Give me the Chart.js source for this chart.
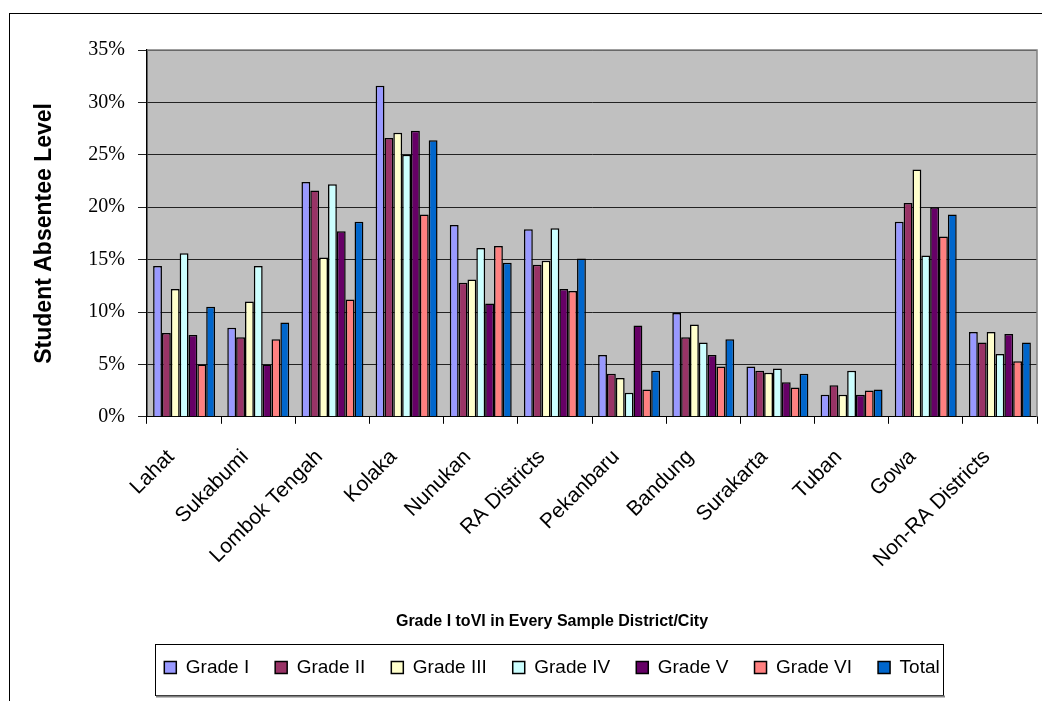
<!DOCTYPE html>
<html>
<head>
<meta charset="utf-8">
<title>Student Absentee Level</title>
<script src="https://cdn.jsdelivr.net/npm/chart.js@4.4.1/dist/chart.umd.min.js"></script>
<style>
  body { margin: 0; background: #fff; }
  #wrap { position: relative; width: 1042px; height: 701px; }
  #frame {
    position: absolute; left: 9px; top: 13px; right: 0; bottom: 0;
    border-left: 1px solid #000; border-top: 1px solid #000;
  }
  #absentChart { position: absolute; left: 0; top: 0; }
</style>
</head>
<body>
<div id="wrap">
  <div id="frame"></div>
  <canvas id="absentChart" width="1042" height="701"></canvas>
</div>
<script>
// Districts / cities on the x axis
const districts = ["Lahat", "Sukabumi", "Lombok Tengah", "Kolaka", "Nunukan", "RA Districts",
  "Pekanbaru", "Bandung", "Surakarta", "Tuban", "Gowa", "Non-RA Districts"];

// Absentee level per grade (%)
const gradeI   = [14.4, 8.5, 22.4, 31.6, 18.3, 17.9, 5.9, 9.9, 4.8, 2.1, 18.6, 8.1];
const gradeII  = [8.0, 7.6, 21.6, 26.6, 12.8, 14.5, 4.1, 7.6, 4.4, 3.0, 20.4, 7.1];
const gradeIII = [12.2, 11.0, 15.2, 27.1, 13.1, 14.9, 3.7, 8.8, 4.2, 2.1, 23.6, 8.1];
const gradeIV  = [15.6, 14.4, 22.2, 25.0, 16.1, 18.0, 2.3, 7.1, 4.6, 4.4, 15.4, 6.0];
const gradeV   = [7.8, 5.0, 17.7, 27.3, 10.8, 12.2, 8.7, 5.9, 3.3, 2.1, 20.0, 7.9];
const gradeVI  = [5.0, 7.4, 11.2, 19.3, 16.3, 12.0, 2.6, 4.8, 2.8, 2.5, 17.2, 5.3];
const total    = [10.5, 9.0, 18.6, 26.4, 14.7, 15.1, 4.4, 7.4, 4.1, 2.6, 19.3, 7.1];

const yMax = 35;
const yStep = 5;

function series(label, data, color) {
  return {
    label: label,
    data: data,
    backgroundColor: color,
    borderColor: "#000",
    borderWidth: 1.5,
    borderSkipped: "start",
  };
}

// grey plot area, plot border and the box round the legend
const frames = {
  id: "frames",
  beforeDraw(chart) {
    const a = chart.chartArea;
    const ctx = chart.ctx;
    ctx.save();
    ctx.fillStyle = "#c0c0c0";
    ctx.fillRect(a.left, a.top, a.right - a.left, a.bottom - a.top);
    ctx.restore();
  },
  afterDraw(chart) {
    const a = chart.chartArea;
    const ctx = chart.ctx;
    ctx.save();
    ctx.strokeStyle = "#808080";
    ctx.lineWidth = 1.5;
    ctx.beginPath();
    ctx.moveTo(a.left, a.top);
    ctx.lineTo(a.right, a.top);
    ctx.lineTo(a.right, a.bottom);
    ctx.stroke();

    // legend box
    const lg = chart.legend;
    const boxes = lg.legendHitBoxes;
    if (boxes && boxes.length) {
      let l = Infinity, r = -Infinity;
      boxes.forEach(function (b) {
        l = Math.min(l, b.left);
        r = Math.max(r, b.left + b.width);
      });
      const top = Math.round(lg.top + 12) + 0.5;
      const bottom = Math.round(lg.bottom + 8) + 0.5;
      ctx.strokeStyle = "#000";
      ctx.lineWidth = 1;
      ctx.strokeRect(Math.round(l - 9) + 0.5, top, Math.round(r - l + 13), bottom - top);
      ctx.strokeStyle = "#808080";
      ctx.lineWidth = 2;
      ctx.beginPath();
      ctx.moveTo(Math.round(l - 8), bottom + 1);
      ctx.lineTo(Math.round(r + 5), bottom + 1);
      ctx.stroke();
    }
    ctx.restore();
  },
};

const ctx = document.getElementById("absentChart").getContext("2d");
const absentChart = new Chart(ctx, {
  type: "bar",
  data: {
    labels: districts,
    datasets: [
      series("Grade I", gradeI, "#9999ff"),
      series("Grade II", gradeII, "#993366"),
      series("Grade III", gradeIII, "#ffffcc"),
      series("Grade IV", gradeIV, "#ccffff"),
      series("Grade V", gradeV, "#660066"),
      series("Grade VI", gradeVI, "#ff8080"),
      series("Total", total, "#0066cc"),
    ],
  },
  options: {
    responsive: false,
    animation: false,
    devicePixelRatio: 1,
    layout: { padding: { left: 67, right: 5, top: 50, bottom: 14 } },
    datasets: {
      bar: { categoryPercentage: 0.835, barPercentage: 1 },
    },
    scales: {
      x: {
        afterFit(scale) { scale.height = 195; },
        grid: {
          display: true,
          drawOnChartArea: false,
          drawTicks: true,
          tickLength: 7,
          color: "#000",
          offset: true,
        },
        border: { display: true, color: "#000", width: 1 },
        ticks: {
          autoSkip: false,
          maxRotation: 45,
          minRotation: 45,
          padding: 21,
          labelOffset: -13,
          color: "#000",
          font: { family: "'Liberation Sans', Arial, sans-serif", size: 21 },
        },
      },
      y: {
        min: 0,
        max: yMax,
        afterFit(scale) { scale.width = 80; },
        grid: { color: "#222", lineWidth: 1, drawTicks: true, tickLength: 9 },
        border: { display: true, color: "#000", width: 1.5 },
        ticks: {
          stepSize: yStep,
          padding: 13,
          color: "#000",
          font: { family: "'Liberation Serif', 'Times New Roman', serif", size: 20 },
          callback: function (v) { return v + "%"; },
        },
        title: {
          display: true,
          text: "Student Absentee Level",
          color: "#000",
          padding: { top: -36, bottom: 0 },
          font: { family: "'Liberation Sans', Arial, sans-serif", size: 23, weight: "bold" },
        },
      },
    },
    plugins: {
      title: {
        display: true,
        position: "bottom",
        weight: 500,
        text: "Grade I toVI in Every Sample District/City",
        color: "#000",
        padding: { top: 0, bottom: 1 },
        font: { family: "'Liberation Sans', Arial, sans-serif", size: 16, weight: "bold" },
      },
      legend: {
        position: "bottom",
        labels: {
          color: "#000",
          boxWidth: 12,
          boxHeight: 12,
          padding: 26,
          font: { family: "'Liberation Sans', Arial, sans-serif", size: 19 },
        },
      },
      tooltip: { enabled: false },
    },
  },
  plugins: [frames],
});
</script>
</body>
</html>
